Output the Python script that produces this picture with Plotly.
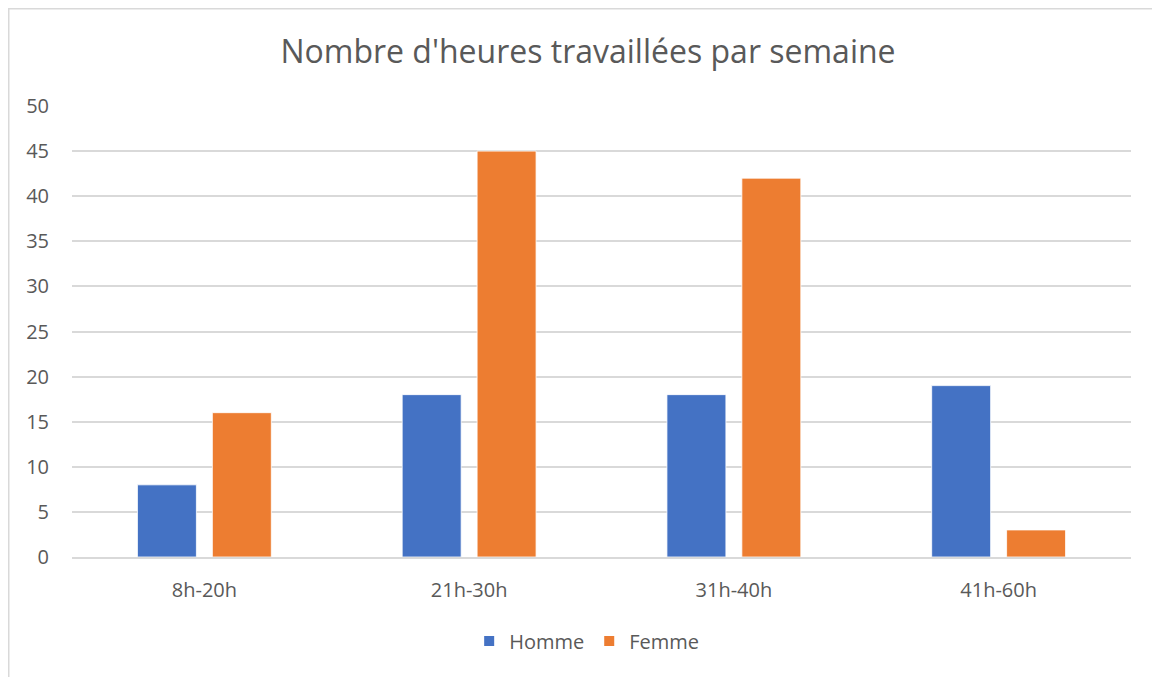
import plotly.graph_objects as go

categories = ["8h-20h", "21h-30h", "31h-40h", "41h-60h"]
homme = [8, 18, 18, 19]
femme = [16, 45, 42, 3]
y_ticks = list(range(0, 55, 5))

# the page adds an 8px body margin, so figure coords = page coords - 8
W, H = 1160, 677
L, R, T, B = 64, 37, 98, 128
pw, ph = W - L - R, H - T - B

text_col = "#595959"
font_family = "'Open Sans', sans-serif"

fig = go.Figure()
fig.add_trace(go.Bar(x=categories, y=homme, name="Homme",
                     marker=dict(color="#4472C4", line=dict(color="#FFFFFF", width=0.8))))
fig.add_trace(go.Bar(x=categories, y=femme, name="Femme",
                     marker=dict(color="#ED7D31", line=dict(color="#FFFFFF", width=0.8))))


def px_x(p):
    return (p - L) / pw


def px_y(p):
    return (H - B - p) / ph


# outer chart border (light grey frame, Excel style)
fig.add_shape(type="path", xref="paper", yref="paper",
              path=f"M {px_x(0.5)},{px_y(700)} L {px_x(0.5)},{px_y(0.5)} "
                   f"L {px_x(1150)},{px_y(0.5)} L {px_x(1150)},{px_y(700)}",
              line=dict(color="#D9D9D9", width=2), layer="below")

fig.update_layout(
    width=W, height=H,
    margin=dict(l=L, r=R, t=T, b=B),
    paper_bgcolor="white", plot_bgcolor="white",
    barmode="group", bargap=0.434, bargroupgap=0.213,
    font=dict(family=font_family, color=text_col, size=20),
    title=dict(text="Nombre d'heures travaillées par semaine",
               x=0.5, xanchor="center", y=1 - 44 / H, yanchor="middle",
               font=dict(size=32, color=text_col)),
    legend=dict(orientation="h", x=0.486, xanchor="center",
                y=px_y(633), yanchor="middle",
                font=dict(size=20, color=text_col),
                itemsizing="constant", traceorder="normal"),
    showlegend=True,
)
fig.update_yaxes(range=[0, 50], tickvals=y_ticks, showgrid=True,
                 gridcolor="#D9D9D9", gridwidth=1.5, zeroline=False,
                 showline=False, ticks="", ticklabelstandoff=22,
                 tickfont=dict(size=20, color=text_col))
fig.update_xaxes(showgrid=False, showline=True, linecolor="#D9D9D9",
                 linewidth=1.5, ticks="", ticklabelstandoff=14,
                 tickfont=dict(size=20, color=text_col))

fig.write_html("out.html")
